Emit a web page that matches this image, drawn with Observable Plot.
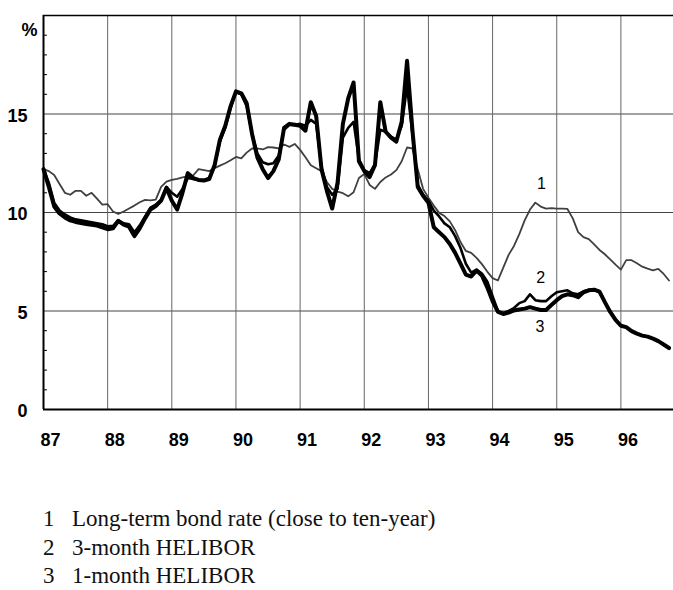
<!DOCTYPE html>
<html><head><meta charset="utf-8">
<script src="https://cdn.jsdelivr.net/npm/d3@7"></script>
<script src="https://cdn.jsdelivr.net/npm/@observablehq/plot@0.6"></script>
<style>
body{margin:0;background:#fff;}
#legend{font-family:"Liberation Serif","Times New Roman",serif;font-size:23px;line-height:28.5px;color:#111;margin-top:45px;padding-left:43px;}
#legend .n{display:inline-block;width:29px;}
</style></head><body>
<div id="chart"></div>
<div id="legend"></div>
<script>
const startYear = 1987;
const yearTicks = [1987,1988,1989,1990,1991,1992,1993,1994,1995,1996];
const gridYears = [1988,1989,1990,1991,1992,1993,1994,1995,1996];
const valueTicks = [0,5,10,15];
const gridValues = [5,10,15];
const minorTicks = [1,2,3,4,6,7,8,9,11,12,13,14,16,17,18,19];

// Monthly values, Jan 1987 – Oct 1996 (%)
const bondRate = [
 12.2,12.1,11.9,11.45,11.0,10.9,11.1,11.1,10.85,11.0,10.7,10.4,
 10.42,10.05,9.93,10.05,10.2,10.35,10.52,10.64,10.62,10.65,11.3,11.57,
 11.66,11.71,11.78,11.83,11.88,12.2,12.15,12.1,12.25,12.38,12.5,12.65,
 12.82,12.75,13.04,13.25,13.25,13.2,13.32,13.3,13.25,13.45,13.33,13.48,
 13.18,12.8,12.4,12.25,12.1,11.55,11.2,11.06,10.98,10.82,11.03,11.75,
 11.95,11.4,11.2,11.55,11.78,11.93,12.15,12.6,13.3,13.25,12.2,11.2,
 10.75,10.35,9.98,9.82,9.55,9.1,8.5,8.05,7.95,7.7,7.38,7.0,
 6.67,6.55,7.2,7.85,8.3,8.9,9.6,10.15,10.5,10.3,10.2,10.22,
 10.2,10.2,10.18,9.7,9.0,8.75,8.65,8.38,8.1,7.88,7.62,7.35,
 7.1,7.58,7.58,7.42,7.25,7.15,7.06,7.14,6.88,6.55];
const helibor3m = [
 12.2,11.5,10.5,10.1,9.9,9.75,9.65,9.6,9.55,9.5,9.45,9.4,
 9.3,9.32,9.6,9.45,9.4,9.0,9.35,9.8,10.25,10.4,10.65,11.3,
 11.0,10.8,11.2,11.75,11.7,11.65,11.65,11.75,12.35,13.6,14.3,15.3,
 16.1,16.0,15.4,14.0,13.0,12.55,12.45,12.5,12.9,14.2,14.45,14.45,
 14.5,14.4,14.7,14.5,12.3,11.3,10.9,11.2,13.8,14.3,14.6,12.7,
 12.15,12.0,12.45,14.2,14.1,13.85,13.7,14.4,16.4,14.0,11.4,10.9,
 10.6,10.1,9.8,9.45,9.25,8.8,8.2,7.4,6.95,7.1,6.9,6.5,
 5.75,5.0,4.9,5.0,5.15,5.4,5.5,5.85,5.55,5.5,5.5,5.75,
 5.95,6.0,6.05,5.9,5.85,6.0,6.08,6.05,5.98,5.45,4.95,4.55,
 4.25,4.18,3.98,3.85,3.75,3.7,3.6,3.47,3.3,3.12];
const helibor1m = [
 12.2,11.3,10.3,9.95,9.75,9.6,9.52,9.47,9.42,9.38,9.34,9.25,
 9.15,9.2,9.58,9.38,9.28,8.8,9.2,9.7,10.15,10.33,10.6,11.25,
 10.6,10.15,11.0,12.0,11.75,11.65,11.62,11.7,12.4,13.7,14.4,15.4,
 16.15,16.05,15.55,14.0,12.8,12.2,11.75,12.1,12.7,14.3,14.5,14.45,
 14.4,14.15,15.6,14.9,12.2,11.1,10.2,11.5,14.5,15.8,16.6,12.6,
 12.1,11.8,12.4,15.6,14.1,13.8,13.6,14.6,17.7,14.2,11.3,10.85,
 10.5,9.25,9.0,8.75,8.4,7.95,7.4,6.85,6.75,7.05,6.8,6.2,
 5.5,4.95,4.85,4.92,5.03,5.08,5.12,5.2,5.12,5.05,5.05,5.3,
 5.55,5.75,5.85,5.8,5.7,5.95,6.05,6.08,5.98,5.45,4.95,4.55,
 4.25,4.18,3.98,3.85,3.75,3.7,3.6,3.47,3.3,3.12];

const labelNames = ["1","2","3"];
const labelTimes = [1994.76,1994.75,1994.74];
const labelValues = [11.47,6.66,4.18];
const legendItems = ["Long-term bond rate (close to ten-year)","3-month HELIBOR","1-month HELIBOR"];

const rows = vals => vals.map((v,i) => ({t: startYear + i/12, v}));
const seriesLabels = labelNames.map((name,i) => ({name, t: labelTimes[i], v: labelValues[i]}));

const chart = Plot.plot({
  width: 673, height: 460,
  marginLeft: 43, marginRight: 0, marginTop: 15, marginBottom: 51,
  x: {domain: [1987, 1996.82]},
  y: {domain: [0, 20]},
  style: {fontFamily: "'Liberation Sans', Arial, sans-serif", background: "white", color: "#000"},
  marks: [
    Plot.ruleY(gridValues, {stroke: "#444", strokeWidth: 1}),
    Plot.ruleX(gridYears, {stroke: "#666", strokeWidth: 1}),
    Plot.ruleY([20], {stroke: "#000", strokeWidth: 1.5}),
    Plot.tickY(minorTicks, {y: d => d, insetRight: 626, stroke: "#000", strokeWidth: 1}),
    Plot.line(rows(bondRate), {x: "t", y: "v", stroke: "#404040", strokeWidth: 1.8}),
    Plot.line(rows(helibor3m), {x: "t", y: "v", stroke: "#000", strokeWidth: 2.6}),
    Plot.line(rows(helibor1m), {x: "t", y: "v", stroke: "#000", strokeWidth: 4}),
    Plot.ruleX([1987], {stroke: "#000", strokeWidth: 2}),
    Plot.ruleY([0], {stroke: "#000", strokeWidth: 2}),
    Plot.text(seriesLabels, {x: "t", y: "v", text: "name", fontSize: 16, fill: "#000"}),
    Plot.axisY({ticks: valueTicks, tickSize: 0, tickPadding: 16, fontSize: 18, fontWeight: "bold", label: null, dy: 2}),
    Plot.axisX({ticks: yearTicks, tickFormat: d => String(d).slice(2), tickSize: 0, tickPadding: 24, fontSize: 18, fontWeight: "bold", label: null, dx: 7}),
    Plot.text(["%"], {text: d => d, frameAnchor: "top-left", textAnchor: "middle", lineAnchor: "middle", dx: -14, dy: 15, fontSize: 18, fontWeight: "bold"})
  ]
});
document.getElementById("chart").appendChild(chart);

const legend = document.getElementById("legend");
legendItems.forEach((txt, i) => {
  const row = document.createElement("div");
  const n = document.createElement("span");
  n.className = "n";
  n.textContent = labelNames[i];
  row.appendChild(n);
  row.appendChild(document.createTextNode(txt));
  legend.appendChild(row);
});
</script>
</body></html>
